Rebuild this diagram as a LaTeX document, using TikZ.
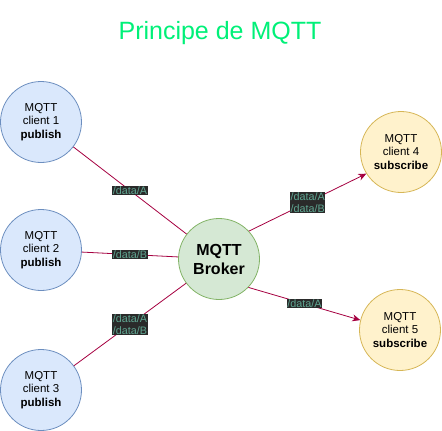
\documentclass[tikz,border=0pt]{standalone}
\usepackage{fontspec}
\setmainfont{Liberation Sans}
\usetikzlibrary{arrows.meta}
\definecolor{pubfill}{HTML}{DAE8FC}
\definecolor{pubdraw}{HTML}{6C8EBF}
\definecolor{brkfill}{HTML}{D5E8D4}
\definecolor{brkdraw}{HTML}{82B366}
\definecolor{subfill}{HTML}{FFF2CC}
\definecolor{subdraw}{HTML}{D6B656}
\definecolor{edgecol}{HTML}{A50040}
\definecolor{lblbg}{HTML}{2A2A2A}
\definecolor{lbltext}{HTML}{5FA591}
\definecolor{titlecol}{RGB}{0,240,120}
\tikzset{
  client/.style={circle, minimum size=81pt, inner sep=0pt, line width=0.8pt, align=center,
    font=\fontsize{11.5}{13.8}\selectfont},
  pubnode/.style={client, fill=pubfill, draw=pubdraw},
  subnode/.style={client, fill=subfill, draw=subdraw},
  brokernode/.style={circle, minimum size=81pt, inner sep=0pt, line width=0.8pt, align=center,
    fill=brkfill, draw=brkdraw, font=\fontsize{16}{19}\selectfont\bfseries},
  link/.style={draw=edgecol, line width=0.8pt},
  arrowlink/.style={link, -{Stealth[length=8pt,width=7pt,inset=2.5pt]}},
  topic/.style={fill=lblbg, text=lbltext, inner sep=0.6pt, align=center,
    font=\fontsize{10.8}{12.5}\selectfont}
}
\begin{document}
\begin{tikzpicture}[x=1pt,y=-1pt]
\useasboundingbox (0,0) rectangle (442,431);
\node[text=titlecol, font=\fontsize{25}{29}\selectfont] (title) at (220,33) {Principe de MQTT};
\node[pubnode] (c1) at (41,122) {MQTT\\client 1\\\textbf{publish}};
\node[pubnode] (c2) at (41,250) {MQTT\\client 2\\\textbf{publish}};
\node[pubnode] (c3) at (41,390) {MQTT\\client 3\\\textbf{publish}};
\node[brokernode] (br) at (219,259) {MQTT\\Broker};
\node[subnode] (c4) at (401,152) {MQTT\\client 4\\\textbf{subscribe}};
\node[subnode] (c5) at (400,330) {MQTT\\client 5\\\textbf{subscribe}};
\draw[link] (c1) -- node[topic] {/data/A} (br);
\draw[link] (c2) -- node[topic] {/data/B} (br);
\draw[link] (c3) -- node[topic] {/data/A\\/data/B} (br);
\draw[arrowlink] (br.43) -- node[topic] {/data/A\\/data/B} (c4.212);
\draw[arrowlink] (br.-44) -- node[topic] {/data/A} (c5.166);
\end{tikzpicture}
\end{document}
